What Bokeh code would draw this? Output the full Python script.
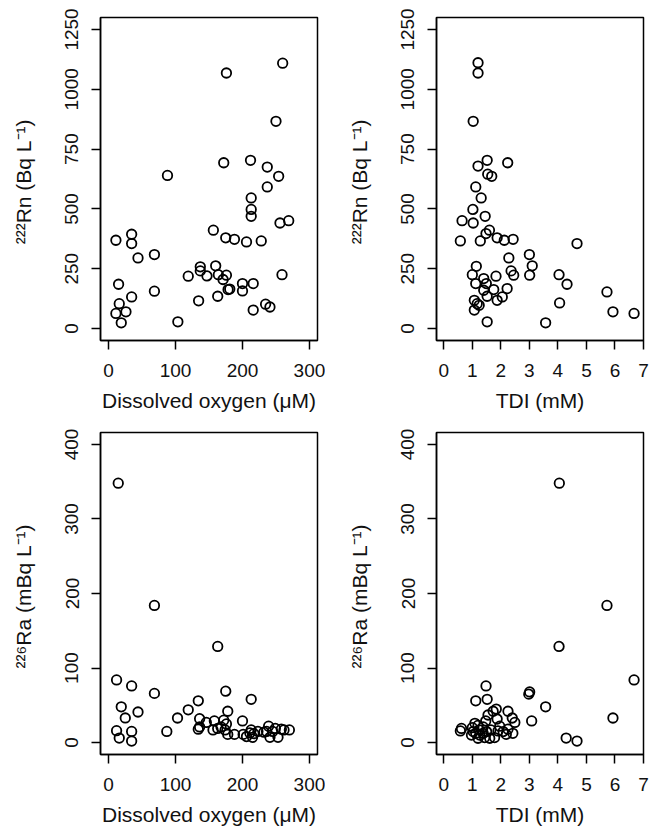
from bokeh.plotting import figure
from bokeh.layouts import column, row
from bokeh.models import FixedTicker, ColumnDataSource
from bokeh.embed import file_html
from bokeh.resources import INLINE

# ---------------- data ----------------
# Panel A: 222Rn vs dissolved oxygen
rn_do_oxygen = [11, 15, 16, 11, 26, 19, 34.5, 34.5, 34.5, 44, 68.5, 68.5, 88, 103.5, 119,
                134.5, 137, 137, 147, 156.5, 160, 163, 164, 171, 176, 176, 172, 175, 178.5,
                181, 188, 200, 200, 206, 212, 213, 213, 213, 216, 216, 228, 234.5, 241, 237,
                237, 254, 250, 260, 256, 269, 259]
rn_do_radon = [369, 185, 104, 63, 70, 24, 132, 394, 355, 295, 309, 156, 640, 28, 219,
               116, 258, 241, 220, 411, 262, 135, 225, 205, 223, 1068, 693, 379, 163,
               165, 373, 188, 157, 362, 703, 546, 498, 469, 188, 77, 366, 102, 90, 675,
               592, 636, 866, 1109, 441, 451, 225]

# Panel B: 222Rn vs TDI
rn_tdi_tdi = [1.20, 1.20, 1.03, 1.52, 1.20, 1.54, 1.68, 2.24, 1.12, 1.31, 1.02, 1.03, 0.64,
              0.58, 1.45, 1.60, 1.48, 1.28, 1.87, 2.12, 2.43, 3.00, 3.10, 3.01, 2.28, 2.36,
              2.45, 2.22, 1.83, 1.14, 1.00, 1.12, 1.40, 1.49, 1.40, 1.52, 1.75, 1.87, 2.05,
              1.07, 1.17, 1.07, 1.24, 1.52, 3.57, 4.04, 4.32, 4.06, 4.67, 5.72, 5.93, 6.67]
rn_tdi_radon = [1111, 1068, 866, 703, 679, 645, 636, 693, 592, 546, 498, 441, 451,
                366, 469, 411, 397, 366, 379, 369, 373, 309, 262, 223, 295, 241,
                223, 167, 219, 260, 225, 188, 209, 188, 160, 135, 163, 118, 132,
                118, 104, 77, 97, 28, 24, 225, 185, 107, 355, 153, 70, 63]

# Panel C: 226Ra vs dissolved oxygen
ra_do_oxygen = [14.5, 12, 34.5, 68.5, 68.5, 19, 25, 44, 12, 16, 34.5, 34.5, 87, 103, 119,
                134, 136, 134, 136, 146, 163, 175, 178, 158, 156, 168, 172, 174, 178, 188,
                200, 213, 201, 206, 213, 215, 217, 223, 236, 239, 241, 249, 253, 258, 262,
                270, 176, 163, 232, 211, 245]
ra_do_radium = [348, 84, 76, 184, 66, 48, 33, 41, 16, 6, 15, 2, 15, 33, 44,
                56, 32, 18, 21, 27, 129, 69, 42, 29, 17, 21, 30, 17, 11, 11,
                29, 58, 11, 8, 17, 7, 12, 15, 15, 22, 7, 19, 7, 18, 17,
                17, 25, 19, 14, 13, 15]

# Panel D: 226Ra vs TDI
ra_tdi_tdi = [4.05, 5.72, 4.04, 6.67, 5.93, 3.01, 2.98, 3.57, 3.08, 4.29, 4.67, 1.48, 1.12,
              1.52, 1.84, 1.73, 2.25, 2.40, 2.49, 1.87, 1.55, 1.47, 1.38, 0.62, 0.58, 1.00,
              1.12, 1.20, 1.24, 1.09, 1.20, 1.38, 1.61, 1.65, 1.90, 2.08, 2.19, 2.42, 2.25,
              1.96, 0.97, 1.26, 1.43, 1.78, 1.03, 1.50]
ra_tdi_radium = [348, 184, 129, 84, 33, 68, 65, 48, 29, 6, 2, 76, 56,
                 58, 45, 42, 42, 33, 27, 31.6, 37, 29, 21, 19, 15.6, 20,
                 12.4, 5.8, 17, 25.8, 23, 12.4, 5.8, 17, 15.6, 14.7, 11, 12.4, 18,
                 22, 10, 10, 6.7, 6.7, 14.7, 14.7]

do_ticks = [0, 100, 200, 300]
tdi_ticks = [0, 1, 2, 3, 4, 5, 6, 7]
rn_ticks = [0, 250, 500, 750, 1000, 1250]
ra_ticks = [0, 100, 200, 300, 400]

do_label = "Dissolved oxygen (μM)"
tdi_label = "TDI (mM)"
rn_label = "²²²Rn  (Bq L⁻¹)"
ra_label = "²²⁶Ra  (mBq L⁻¹)"

FONT = "Liberation Sans"


def panel(xs, ys, xr, yr, xt, yt, xlab, ylab, width, height, bl, br, bt, bb):
    p = figure(width=width, height=height, x_range=xr, y_range=yr,
               output_backend="svg", toolbar_location=None,
               min_border_left=bl, min_border_right=br,
               min_border_top=bt, min_border_bottom=bb)
    p.xgrid.visible = False
    p.ygrid.visible = False
    p.background_fill_color = "white"
    p.border_fill_color = "white"
    p.outline_line_color = "black"
    p.outline_line_width = 1.5
    src = ColumnDataSource(dict(x=xs, y=ys))
    p.scatter("x", "y", source=src, marker="circle", size=9.5,
              fill_color=None, line_color="black", line_width=1.8)
    p.xaxis.ticker = FixedTicker(ticks=xt)
    p.yaxis.ticker = FixedTicker(ticks=yt)
    for ax in (p.xaxis[0], p.yaxis[0]):
        ax.major_tick_out = 9
        ax.major_tick_in = 0
        ax.minor_tick_line_color = None
        ax.major_tick_line_width = 1.5
        ax.major_tick_line_color = "black"
        ax.axis_line_width = 1.5
        ax.axis_line_color = "black"
        ax.major_label_text_font = FONT
        ax.major_label_text_font_size = "19px"
        ax.major_label_text_color = "#111111"
        ax.axis_label_text_font = FONT
        ax.axis_label_text_font_size = "21px"
        ax.axis_label_text_font_style = "normal"
        ax.axis_label_text_color = "#111111"
    p.xaxis.axis_label = xlab
    p.yaxis.axis_label = ylab
    p.yaxis.major_label_orientation = "vertical"
    p.xaxis.major_label_standoff = 14
    p.yaxis.major_label_standoff = 13
    p.xaxis.axis_label_standoff = 9
    p.yaxis.axis_label_standoff = 28
    return p


p1 = panel(rn_do_oxygen, rn_do_radon, (-12, 312), (-50, 1300), do_ticks, rn_ticks,
           do_label, rn_label, 325, 414, 100, 8, 17, 74)
p2 = panel(rn_tdi_tdi, rn_tdi_radon, (-0.256, 7.001), (-50, 1300), tdi_ticks, rn_ticks,
           tdi_label, rn_label, 326, 414, 111, 8, 17, 74)
p3 = panel(ra_do_oxygen, ra_do_radium, (-12, 312), (-16, 416), do_ticks, ra_ticks,
           do_label, ra_label, 325, 414, 100, 8, 18, 72)
p4 = panel(ra_tdi_tdi, ra_tdi_radium, (-0.256, 7.001), (-16, 416), tdi_ticks, ra_ticks,
           tdi_label, ra_label, 326, 414, 111, 8, 18, 72)

layout = column(row(p1, p2, spacing=0), row(p3, p4, spacing=0), spacing=0)
open("out.html", "w").write(file_html(layout, INLINE))
